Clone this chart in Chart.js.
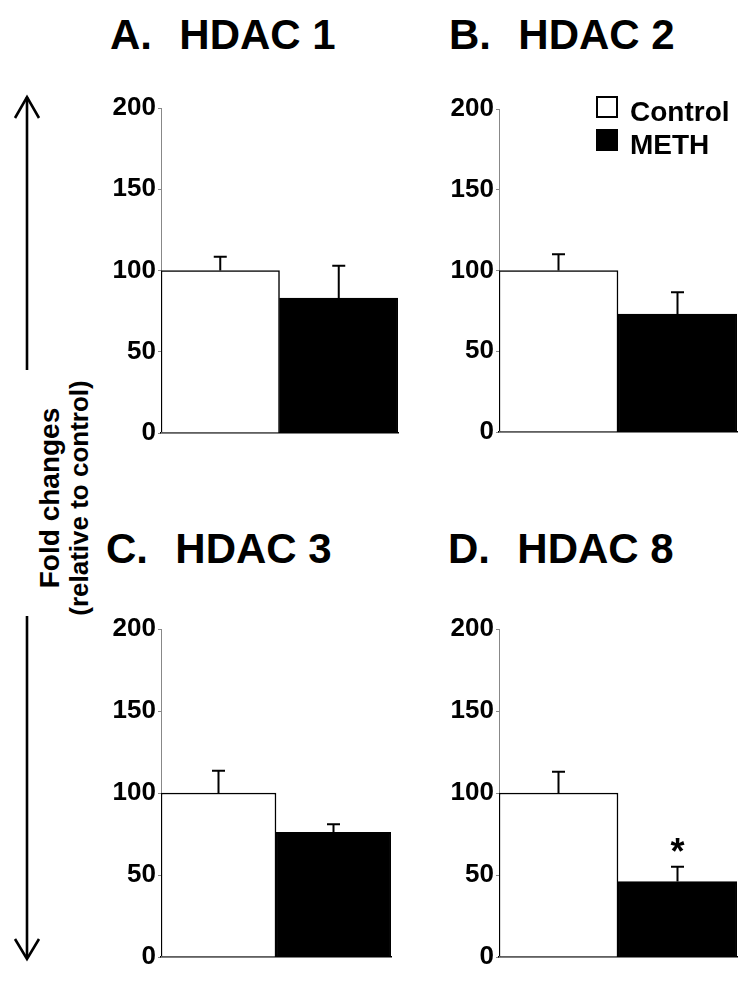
<!DOCTYPE html>
<html>
<head>
<meta charset="utf-8">
<script src="https://cdn.jsdelivr.net/npm/chart.js@4.4.1/dist/chart.umd.min.js"></script>
<style>
  html, body { margin: 0; padding: 0; background: #fff; }
  body { width: 751px; height: 987px; position: relative; overflow: hidden; font-family: "Liberation Sans", Arial, sans-serif; }
  canvas { position: absolute; }
  .title { position: absolute; font-weight: bold; font-size: 42px; line-height: 42px; white-space: pre; color: #000; }
  .title .lt { margin-right: 4px; }
  .ylab { position: absolute; width: 400px; text-align: center; font-weight: bold; color: #000; white-space: nowrap; transform: rotate(-90deg); }
  svg { position: absolute; left: 0; top: 0; }
</style>
</head>
<body>

<svg width="751" height="987">
  <g stroke="#000" stroke-width="2.6" fill="none">
    <line x1="27" y1="97" x2="27" y2="370" />
    <line x1="27" y1="616" x2="27" y2="958" />
    <polyline points="15,118 27,97 39,118" />
    <polyline points="15,939 27,959 39,939" />
  </g>
</svg>
<div class="ylab" style="font-size:28px; line-height:30px; left:-150px; top:483px;">Fold changes</div>
<div class="ylab" style="font-size:26px; line-height:30px; left:-121px; top:483px;">(relative to control)</div>

<script>
// data
const panelLetters = ['A.', 'B.', 'C.', 'D.'];
const panelNames = ['HDAC 1', 'HDAC 2', 'HDAC 3', 'HDAC 8'];
const seriesNames = ['Control', 'METH'];
const controlMean = [100, 100, 100, 100];
const controlErr = [8.5, 10, 13.5, 13];
const methMean = [83, 73, 76, 46];
const methErr = [20, 13.5, 5, 9];
const methMarks = ['', '', '', '*'];
const yTicks = [0, 50, 100, 150, 200];

// where each panel's plot area sits on the page
const boxes = [
  { left: 161, top: 108, w: 237, h: 325, tx: 110, ty: 14 },
  { left: 499, top: 109, w: 238, h: 323, tx: 449, ty: 14 },
  { left: 161, top: 629, w: 230, h: 328, tx: 106, ty: 528 },
  { left: 499, top: 629, w: 238, h: 328, tx: 448, ty: 528 },
];
const Y_W = 60, PAD_T = 22, PAD_R = 8, X_H = 4, PAD_B = 18;
const FONT = '"Liberation Sans", Arial, sans-serif';

Chart.defaults.font.family = FONT;
Chart.defaults.color = '#000';

// upper error bars + significance mark
const errorBars = {
  id: 'errorBars',
  afterDatasetsDraw(chart) {
    const ctx = chart.ctx;
    const yScale = chart.scales.y;
    ctx.save();
    chart.data.datasets.forEach((ds, i) => {
      const meta = chart.getDatasetMeta(i);
      meta.data.forEach((bar, j) => {
        const top = yScale.getPixelForValue(ds.data[j] + ds.errors[j]);
        ctx.strokeStyle = '#000';
        ctx.lineWidth = 2;
        ctx.beginPath();
        ctx.moveTo(bar.x, bar.y);
        ctx.lineTo(bar.x, top);
        ctx.moveTo(bar.x - 6.5, top);
        ctx.lineTo(bar.x + 6.5, top);
        ctx.stroke();
        if (ds.marks && ds.marks[j]) {
          ctx.fillStyle = '#000';
          ctx.font = 'bold 36px ' + FONT;
          ctx.textAlign = 'center';
          ctx.textBaseline = 'alphabetic';
          ctx.fillText(ds.marks[j], bar.x, top - 3);
        }
      });
    });
    ctx.restore();
  }
};

// legend inside the plot area, top right (panel B only)
const boxLegend = {
  id: 'boxLegend',
  afterDraw(chart) {
    const ctx = chart.ctx;
    const area = chart.chartArea;
    const x0 = area.right - 140;
    ctx.save();
    ctx.font = 'bold 28px ' + FONT;
    ctx.textBaseline = 'alphabetic';
    ctx.textAlign = 'left';
    chart.data.datasets.forEach((ds, i) => {
      const base = area.top + 12 + i * 33;
      ctx.fillStyle = ds.backgroundColor;
      ctx.fillRect(x0, base - 24, 20, 20);
      ctx.strokeStyle = '#000';
      ctx.lineWidth = 2;
      ctx.strokeRect(x0, base - 24, 20, 20);
      ctx.fillStyle = '#000';
      ctx.fillText(ds.label, x0 + 33, base);
    });
    ctx.restore();
  }
};

boxes.forEach((b, p) => {
  const title = document.createElement('div');
  title.className = 'title';
  title.style.left = b.tx + 'px';
  title.style.top = b.ty + 'px';
  title.innerHTML = '<span class="lt">' + panelLetters[p] + '</span>  ' + panelNames[p];
  document.body.appendChild(title);

  const canvas = document.createElement('canvas');
  canvas.width = Y_W + b.w + PAD_R;
  canvas.height = PAD_T + b.h + X_H + PAD_B;
  canvas.style.left = (b.left - Y_W) + 'px';
  canvas.style.top = (b.top - PAD_T) + 'px';
  document.body.appendChild(canvas);

  const plugins = [errorBars];
  if (p === 1) plugins.push(boxLegend);

  new Chart(canvas, {
    type: 'bar',
    data: {
      labels: [panelNames[p]],
      datasets: [
        {
          label: seriesNames[0],
          data: [controlMean[p]],
          errors: [controlErr[p]],
          backgroundColor: '#ffffff',
          borderColor: '#000',
          borderWidth: 1.5,
        },
        {
          label: seriesNames[1],
          data: [methMean[p]],
          errors: [methErr[p]],
          marks: [methMarks[p]],
          backgroundColor: '#000000',
          borderColor: '#000',
          borderWidth: 1.5,
        },
      ],
    },
    options: {
      responsive: false,
      animation: false,
      layout: { padding: { top: PAD_T, right: PAD_R, bottom: PAD_B, left: 0 } },
      datasets: { bar: { barPercentage: 1, categoryPercentage: 1 } },
      plugins: {
        legend: { display: false },
        tooltip: { enabled: false },
      },
      scales: {
        x: {
          ticks: { display: false },
          grid: { display: true, drawOnChartArea: false, drawTicks: false },
          border: { display: true, color: '#000', width: 1.5 },
          afterFit(scale) { scale.height = X_H; },
        },
        y: {
          min: yTicks[0],
          max: yTicks[yTicks.length - 1],
          afterBuildTicks(scale) { scale.ticks = yTicks.map(v => ({ value: v })); },
          ticks: { font: { size: 26, weight: 'bold' }, color: '#000', padding: 2 },
          grid: { display: true, drawOnChartArea: false, tickLength: 3, color: '#888' },
          border: { display: true, color: '#888', width: 1 },
          afterFit(scale) { scale.width = Y_W; },
        },
      },
    },
    plugins: plugins,
  });
});
</script>
</body>
</html>
